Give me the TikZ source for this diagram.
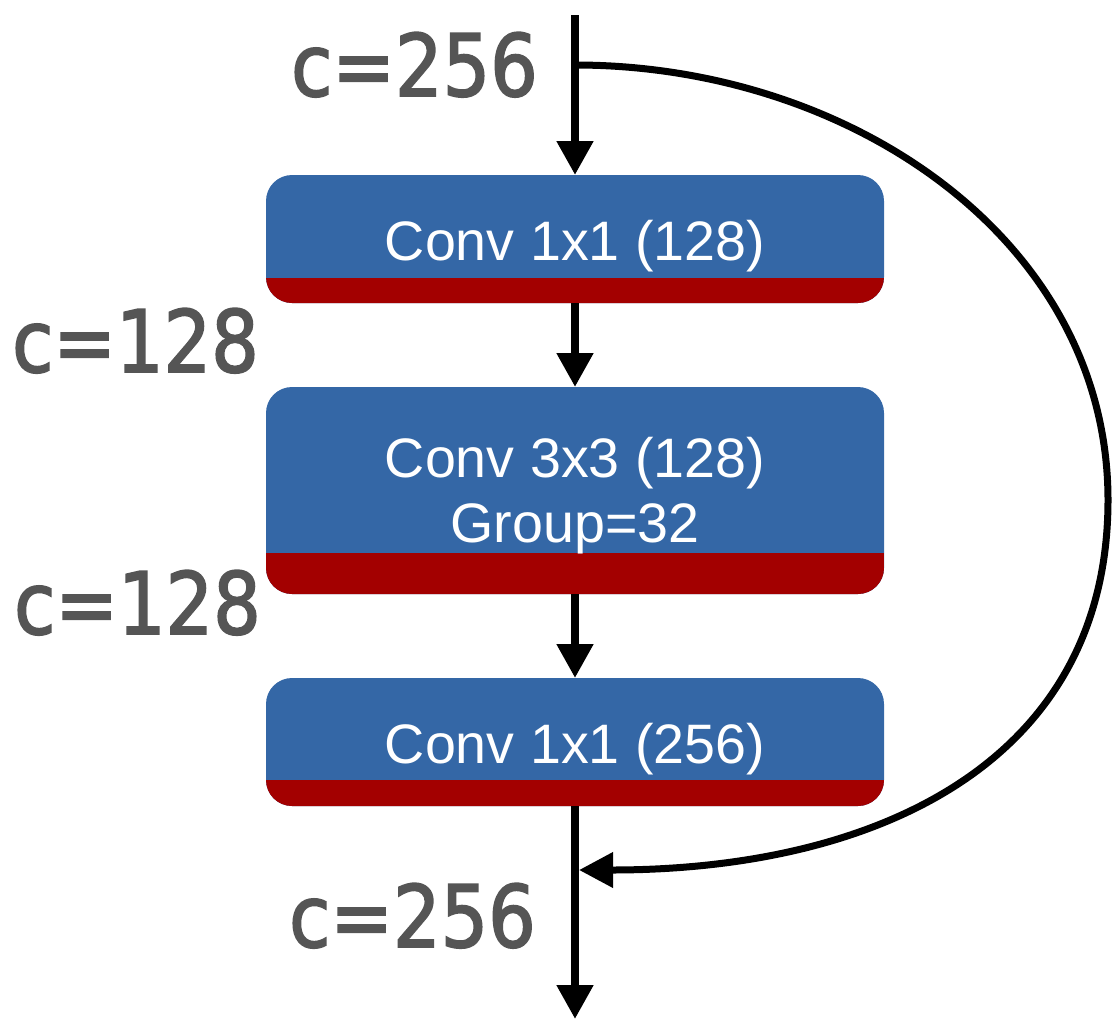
\documentclass[tikz,border=0pt]{standalone}
\usepackage{fontspec}
\setmainfont{Liberation Sans}
\newfontfamily\labfont[FakeStretch=0.87,FakeBold=2]{DejaVu Sans}
\usetikzlibrary{arrows.meta}
\definecolor{boxblue}{HTML}{3467A6}
\definecolor{boxred}{HTML}{A30000}
\definecolor{labgray}{HTML}{555555}
\begin{document}
\begin{tikzpicture}[x=1pt,y=-1pt,
  conv/.style={draw=none, fill=boxblue, rounded corners=26pt, minimum width=618pt,
    inner sep=0pt, outer sep=0pt,
    path picture={\fill[boxred, sharp corners] ([yshift=#1]path picture bounding box.south west) rectangle ([yshift=-2pt]path picture bounding box.south east);}},
  ctext/.style={text=white, font=\fontsize{55.6}{65}\selectfont, inner sep=0pt, anchor=base},
  lab/.style={text=labgray, font=\labfont\fontsize{86}{90}\selectfont, inner sep=0pt, anchor=base},
  flow/.style={line width=8pt, -{Triangle[length=34pt,width=35pt]}},
  skip/.style={line width=7pt, -{Triangle[length=34pt,width=34pt]}}
]
\useasboundingbox (0,0) rectangle (1117,1021);

\node[conv=25pt, minimum height=128pt] (b1) at (575,239) {};
\node[conv=41pt, minimum height=207pt] (b2) at (575,490.5) {};
\node[conv=26pt, minimum height=128pt] (b3) at (575,742) {};

\node[ctext] (t1) at (575,260) {Conv 1x1 (128)};
\node[ctext] (t2a) at (575,477) {Conv 3x3 (128)};
\node[ctext] (t2b) at (575,542) {Group=32};
\node[ctext] (t3) at (575,763) {Conv 1x1 (256)};

\node[lab] (l1) at (414.5,96) {c=256};
\node[lab] (l2) at (135.5,372) {c=128};
\node[lab] (l3) at (137.5,634) {c=128};
\node[lab] (l4) at (412.5,947) {c=256};

\coordinate (top) at (575,15);
\coordinate (bot) at (575,1019);
\coordinate (sc) at (575,65);
\coordinate (ec) at (579,870);

\draw[flow] (top) -- (b1.north);
\draw[flow] (b1.south) -- (b2.north);
\draw[flow] (b2.south) -- (b3.north);
\draw[flow] (b3.south) -- (bot);
\draw[skip] (sc) .. controls (850,65) and (1108,240) .. (1108,500)
  .. controls (1108,760) and (880,870) .. (ec);
\end{tikzpicture}
\end{document}
